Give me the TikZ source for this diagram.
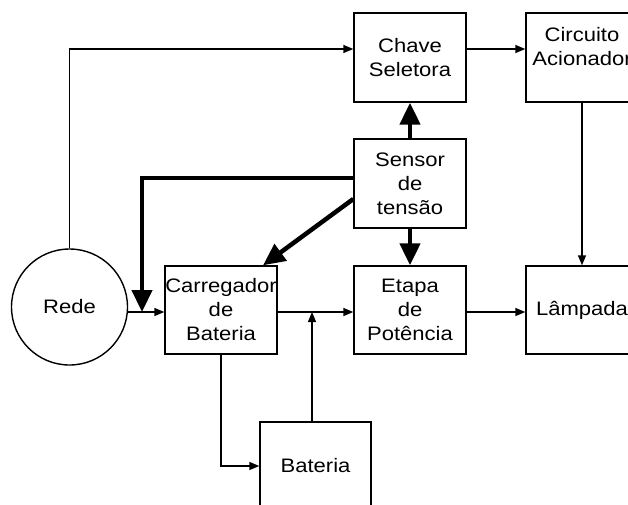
\documentclass[tikz,border=0pt]{standalone}
\usepackage{fontspec}
\setmainfont[FakeStretch=1.13]{Liberation Sans}
\usetikzlibrary{arrows.meta}
\begin{document}
\begin{tikzpicture}[x=1pt,y=-1pt,
  txt/.style={font=\fontsize{19.5}{24}\selectfont},
  box/.style={draw, txt, line width=1.4pt, minimum width=112pt, minimum height=89pt, align=center, inner sep=0pt},
  thinarrow/.style={line width=1.4pt, -{Triangle[length=10pt,width=8pt]}},
  thickarrow/.style={line width=4.5pt, -{Triangle[length=22pt,width=20pt]}},
  lbl/.style={txt, align=center}]
\useasboundingbox (0,0) rectangle (628,504);
\node[box] (chave) at (410,57.5) {Chave\\Seletora};
\node[box, label={[lbl, anchor=north, inner sep=15pt]north:Circuito\\Acionador}] (circ) at (582,57.5) {};
\node[box] (sens) at (410,183.5) {Sensor\\de\\tensão};
\node[box, minimum height=88pt] (carr) at (221,310) {Carregador\\de\\Bateria};
\node[box, minimum height=88pt] (etapa) at (410,310) {Etapa\\de\\Potência};
\node[box, minimum height=88pt] (lamp) at (582,310) {Lâmpada};
\node[box, minimum width=111pt, minimum height=88pt] (bat) at (315.5,466) {Bateria};
\node[draw, circle, txt, line width=1.4pt, minimum size=116pt, inner sep=0pt] (rede) at (69.5,307) {Rede};
\coordinate (j1) at (142,312);
\coordinate (j2) at (312,312);
% thin connectors
\draw[thinarrow] (rede.north) |- (chave.west |- 0,49);
\draw[thinarrow] (chave.east |- 0,49) -- (circ.west |- 0,49);
\draw[thinarrow] (circ.south) -- (lamp.north);
\draw[thinarrow] (rede.east |- j1) -- (carr.west |- j1);
\draw[thinarrow] (carr.east |- j2) -- (etapa.west |- j2);
\draw[thinarrow] (etapa.east |- j2) -- (lamp.west |- j2);
\draw[thinarrow] (carr.south) |- (bat.west);
\draw[thinarrow] (j2 |- bat.north) -- (j2);
% thick connectors
\draw[thickarrow] (sens.north) -- (chave.south);
\draw[thickarrow] (sens.south) -- (etapa.north);
\draw[thickarrow] (sens.west |- 0,178) -| (j1);
\draw[thickarrow] (sens.west |- 0,199) -- (263,0 |- carr.north);
\end{tikzpicture}
\end{document}
